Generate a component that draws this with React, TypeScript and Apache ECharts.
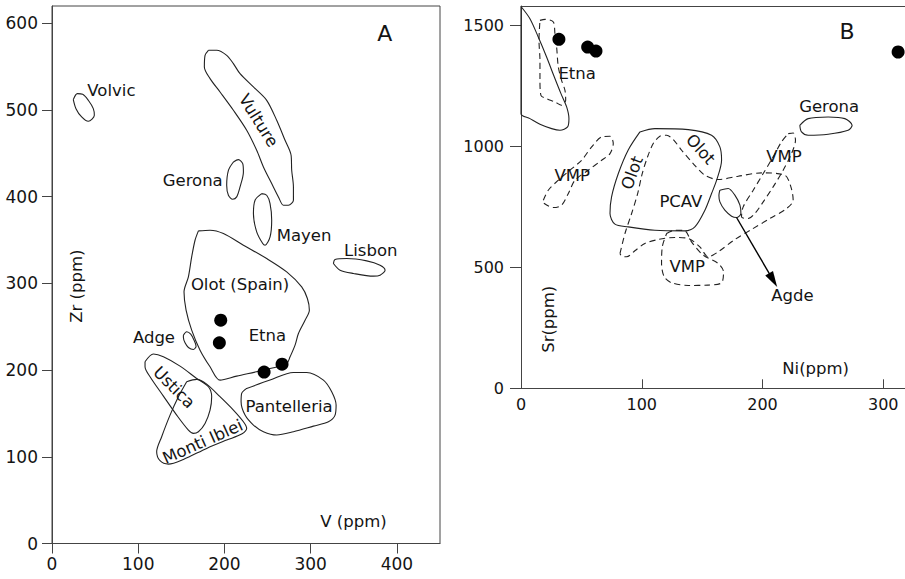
import React, { useEffect, useRef } from "react";
import * as echarts from "echarts";

// ---------- Panel A : V (ppm) vs Zr (ppm) ----------
const xTicksA = [0, 100, 200, 300, 400];
const yTicksA = [0, 100, 200, 300, 400, 500, 600];
const xRangeA = [0, 450];
const yRangeA = [0, 620];

const volvic = [[24.7,512],[29.4,518.9],[35.6,518.2],[42.1,511.3],[47.9,501.6],[49.1,493.9],[42.1,487],[34.4,492],[27.8,501.6]];
const vulture = [[181.4,568.9],[177.5,563.1],[176.7,549.7],[183.3,536.2],[194.9,520.8],[210.4,499.7],[225.8,476.7],[237.4,453.6],[245.2,434.4],[254.8,415.2],[262.6,399.8],[268.4,390.2],[274.2,390.2],[280,396],[280,411.3],[278,430.5],[277.3,447.8],[270.3,465.1],[260.6,488.2],[249,511.2],[233.6,526.6],[218.1,541.9],[210.4,553.5],[202.6,563.1],[191,568.9]];
const geronaA = [[210.4,440.1],[216.2,442.8],[221.2,438.2],[222,428.6],[218.1,411.3],[214.2,399.8],[209.6,397.1],[204.6,401.7],[202.6,413.2],[204.6,430.5]];
const mayen = [[243.2,403.6],[249,401.7],[252.9,392.1],[254.8,372.9],[252.9,353.7],[247.1,344.1],[244.4,346],[237.4,359.5],[233.6,380.6],[235.5,396]];
const lisbon = [[326.4,323],[328.3,327.6],[341.8,328.7],[365,326],[380.5,321],[386.3,315.3],[380.5,309.5],[372.8,308.4],[349.6,311.5],[334.1,315.3]];
const olotSpain = [[169.8,360.6],[183.3,361.4],[198.8,357.5],[222,344.1],[249,328.7],[272.2,313.3],[289.6,296],[296.2,282.6],[298.5,269.1],[293.5,257.6],[285.8,242.3],[281.9,228.8],[276.1,215.3],[272.2,207.7],[245.2,200],[214.2,193.1],[194.9,188.4],[183.3,203.8],[171.7,223],[162,246.1],[155.5,269.1],[153.1,290.3],[158.2,307.6],[162,330.6],[165.9,349.8]];
const adge = [[152.4,240.3],[156.2,244.2],[160.9,241.5],[164.7,234.6],[167.1,227.6],[164,223.8],[158.2,226.1],[154.3,231.5],[152.4,237.6]];
const ustica = [[107.9,209.6],[117.6,218.5],[129.2,215.4],[148.5,204.6],[167.8,190.4],[181.4,180.8],[185.2,169.3],[183.3,153.9],[177.5,138.5],[169.8,128.9],[164,127],[158.2,130.8],[144.6,148.1],[129.2,170],[113.7,192.3],[107.9,203.9]];
const montiIblei = [[156.2,186.6],[167.8,189.3],[179.4,183.9],[194.9,169.3],[210.4,153.9],[222,140.4],[225.8,132.8],[220,126.2],[202.6,119.3],[179.4,109.7],[152.4,97],[135,91.6],[125.3,95.5],[121.4,105.9],[127.2,123.2],[136.9,148.1],[146.6,169.3]];
const pantelleria = [[225.8,178.9],[252.9,188.5],[280,197.3],[295.4,197.3],[314.8,188.5],[324.4,175],[329.5,159.7],[328.3,148.1],[320.6,140.4],[303.2,135.4],[280,128.9],[260.6,125.1],[245.2,128.9],[233.6,136.6],[223.9,148.1],[219.3,163.5],[220,173.1]];
const etnaA = [[195.7,257.6],[194.1,231.5],[246,197.7],[266.8,206.9]];

const labelsA: [string, number, number][] = [
  ["Volvic", 41, 523],
  ["Vulture", 239.4, 487.9],
  ["Gerona", 198, 419],
  ["Mayen", 260.6, 355],
  ["Lisbon", 338.7, 338.3],
  ["Olot (Spain)", 218.1, 299.1],
  ["Etna", 249.8, 240.3],
  ["Adge", 142.7, 237.7],
  ["Ustica", 141.5, 180],
  ["Monti Iblei", 174.8, 117.4],
  ["Pantelleria", 275, 157.7],
  ["A", 386, 588.5],
  ["Zr (ppm)", 28.6, 296.8],
  ["V (ppm)", 349.6, 25.1],
];

// ---------- Panel B : Ni (ppm) vs Sr (ppm) ----------
const xTicksB = [0, 100, 200, 300];
const yTicksB = [0, 500, 1000, 1500];
const xRangeB = [0, 318];
const yRangeB = [0, 1580];

const etnaSolidB = [[0,1578],[7.4,1527.5],[14.3,1451.8],[21.2,1369.2],[27.6,1286.6],[33.1,1217.8],[37.8,1162.8],[39.7,1114.6],[38.6,1080.2],[32.3,1066.4],[25.4,1073.3],[15.7,1091.2],[7.4,1114.6],[0,1135]];
const etnaDashedB = [[15.7,1520.6],[19.9,1524.8],[26.8,1513.7],[28.1,1465.6],[29.5,1410.5],[30.9,1328],[33.6,1272.9],[36.4,1231.6],[37,1190.3],[33.6,1169.7],[28.1,1183.4],[21.2,1197.2],[16.5,1211],[15.7,1272.9],[15.7,1355.5],[14.9,1438]];
const vmpLeft = [[18.5,777.4],[22.6,818.7],[30.9,860],[40.5,901.3],[50.2,942.6],[58.5,997.6],[66.8,1038.9],[73.7,1041.7],[76.4,1011.4],[73.7,970.1],[66.8,942.6],[55.7,901.3],[44.7,860],[39.2,804.9],[33.6,756.8],[26.8,747.1],[19.3,763.7]];
const pcav = [[98.5,1059.6],[110.9,1073.3],[138.5,1069.2],[157.8,1045.8],[164.7,997.6],[166.1,942.6],[162,860],[157.8,804.9],[152.3,736.1],[144,667.3],[135.7,650.8],[110.9,653.5],[88.8,667.3],[77.8,678.3],[73.7,722.4],[75,791.2],[80.6,887.5],[88.8,984.9]];
const olotB = [[82,557.2],[86.1,639.8],[91.6,722.4],[96.6,805],[100.4,887.5],[104.8,956.4],[109.5,1011.4],[115,1041.7],[120.6,1045.8],[126.1,1027.9],[133,983.9],[142.6,928.8],[152.3,880.6],[163.3,862.8],[179.9,876.5],[199.2,890.3],[218.5,880.6],[223.5,832.5],[225.4,777.4],[219.9,743],[206.1,701.7],[190.9,656.3],[177.1,615],[163.3,564.1],[155,543.4],[148.1,584.7],[138.5,619.2],[127.5,623.3],[113.7,615],[102.6,598.5],[94.3,568.2],[87.4,543.4],[83.3,546.2]];
const vmpBottom = [[120.6,639.8],[127.5,653.5],[135.7,650.8],[141.2,605.4],[150.9,550.3],[163.3,515.9],[167.7,481.5],[166.1,436.1],[155,426.5],[138.5,425.1],[124.7,436.1],[118.6,460.9],[116.4,515.9],[117,584.7]];
const vmpRight = [[221.3,1052.7],[225.4,1055.4],[227.3,1025.2],[224,970.1],[217.1,901.3],[208.8,832.5],[200.6,770.5],[193.7,722.4],[188.1,701.7],[182.6,708.6],[184,749.9],[192.3,818.7],[200.6,887.5],[208.8,956.4],[215.7,1018.3]];
const agde = [[164.7,818.7],[171.6,825.6],[177.1,798.1],[181.3,756.8],[182.1,722.4],[178.5,705.9],[174.4,711.4],[168.8,736.1],[164.7,770.5],[163.9,798.1]];
const geronaB = [[230.9,1087.1],[237.8,1114.6],[254.4,1121.5],[268.2,1114.6],[274.2,1087.1],[270.9,1066.4],[254.4,1049.9],[237.8,1045.8],[232.3,1059.6]];
const etnaB = [[31.4,1442.2],[55.2,1410.5],[62.1,1394],[312.3,1389.9]];
const agdeArrow = [[178.5,705.9],[208.8,447.1]];

const labelsB: [string, number, number][] = [
  ["Etna", 31, 1300],
  ["VMP", 42.5, 880.6],
  ["Olot", 92.1, 890.3],
  ["Olot", 148.7, 988],
  ["PCAV", 132.4, 770.5],
  ["VMP", 217.7, 956.3],
  ["VMP", 137.7, 502.2],
  ["Gerona", 255.2, 1162.8],
  ["Agde", 224.8, 382.3],
  ["B", 270.1, 1476.5],
  ["Sr(ppm)", 22.6, 285.3],
  ["Ni(ppm)", 244, 82.6],
];

// ---------- styling ----------
const FONT = '"DejaVu Sans", sans-serif';
const INK = "#141414";
const LINE = "#222222";
const AXIS = "#444444";

type Hint = { anchor?: "left" | "right"; rotate?: number; size?: number };
const hintsA: Hint[] = [
  { anchor: "left" }, { rotate: -58 }, { anchor: "right" }, { anchor: "left" }, { anchor: "left" },
  {}, {}, { anchor: "right" }, { rotate: -45 }, { rotate: 24 }, {}, { size: 22 }, { rotate: 90 }, {},
];
const hintsB: Hint[] = [
  { anchor: "left" }, {}, { rotate: 70 }, { rotate: -48 }, {}, {}, {}, {}, {}, { size: 22 }, { rotate: 90 }, {},
];

function closed(pts: number[][]) {
  return [...pts, pts[0]];
}

function outline(pts: number[][], idx: number, dashed = false) {
  return {
    type: "line",
    xAxisIndex: idx,
    yAxisIndex: idx,
    data: closed(pts),
    smooth: 0.3,
    symbol: "none",
    showSymbol: false,
    silent: true,
    z: 2,
    lineStyle: { color: LINE, width: 1.1, type: dashed ? [6, 4] : "solid" },
  };
}

function labelSeries(items: [string, number, number][], hints: Hint[], idx: number) {
  return {
    type: "scatter",
    xAxisIndex: idx,
    yAxisIndex: idx,
    symbolSize: 0,
    silent: true,
    z: 6,
    itemStyle: { color: "rgba(0,0,0,0)" },
    data: items.map(([name, x, y], i) => {
      const h = hints[i] || {};
      return {
        name,
        value: [x, y],
        label: {
          show: true,
          formatter: "{b}",
          position: h.anchor === "left" ? "right" : h.anchor === "right" ? "left" : "inside",
          distance: 0,
          rotate: h.rotate || 0,
          fontSize: h.size || 16.5,
          color: INK,
          opacity: 1,
          fontFamily: FONT,
        },
      };
    }),
  };
}

function valueAxis(range: number[], ticks: number[], grid: number, o: any) {
  return {
    type: "value",
    gridIndex: grid,
    min: range[0],
    max: range[1],
    splitLine: { show: false },
    axisLine: { show: true, onZero: false, lineStyle: { color: AXIS, width: 1 } },
    axisTick: { show: true, customValues: ticks, length: o.tickLen, inside: !!o.inside, lineStyle: { color: AXIS, width: 1 } },
    axisLabel: {
      show: true, customValues: ticks, color: INK, fontSize: o.font, fontFamily: FONT, margin: o.margin,
      formatter: (v: number) => String(v),
    },
  };
}

export default function App() {
  const ref = useRef<HTMLDivElement>(null);
  useEffect(() => {
    document.body.style.margin = "0";
    const chart = echarts.init(ref.current!, null, { renderer: "svg" });
    chart.setOption({
      animation: false,
      backgroundColor: "#ffffff",
      grid: [
        { left: 52, top: 6, width: 388, height: 537.5, show: true, borderColor: AXIS, borderWidth: 1, backgroundColor: "transparent", containLabel: false, outerBoundsMode: "none" },
        { left: 521, top: 6, width: 384, height: 382.3, containLabel: false, outerBoundsMode: "none" },
      ],
      xAxis: [
        valueAxis(xRangeA, xTicksA, 0, { tickLen: 10, font: 17, margin: 12 }),
        valueAxis(xRangeB, xTicksB, 1, { tickLen: 9, inside: true, font: 16, margin: 8 }),
        {
          type: "value", gridIndex: 1, position: "top", min: xRangeB[0], max: xRangeB[1],
          axisLine: { show: true, onZero: false, lineStyle: { color: AXIS, width: 1 } },
          axisTick: { show: false }, axisLabel: { show: false }, splitLine: { show: false },
        },
      ],
      yAxis: [
        valueAxis(yRangeA, yTicksA, 0, { tickLen: 10, font: 17, margin: 14 }),
        valueAxis(yRangeB, yTicksB, 1, { tickLen: 11, font: 16, margin: 17 }),
      ],
      series: [
        outline(volvic, 0),
        outline(vulture, 0),
        outline(geronaA, 0),
        outline(mayen, 0),
        outline(lisbon, 0),
        outline(olotSpain, 0),
        outline(adge, 0),
        outline(ustica, 0),
        outline(montiIblei, 0),
        outline(pantelleria, 0),
        { type: "scatter", xAxisIndex: 0, yAxisIndex: 0, data: etnaA, symbolSize: 13, itemStyle: { color: "#000", opacity: 1 }, z: 5, silent: true },
        labelSeries(labelsA, hintsA, 0),

        outline(etnaSolidB, 1),
        outline(etnaDashedB, 1, true),
        outline(vmpLeft, 1, true),
        outline(pcav, 1),
        outline(olotB, 1, true),
        outline(vmpBottom, 1, true),
        outline(vmpRight, 1, true),
        outline(agde, 1),
        outline(geronaB, 1),
        {
          type: "scatter", xAxisIndex: 1, yAxisIndex: 1, data: etnaB, symbolSize: 13, itemStyle: { color: "#000", opacity: 1 }, z: 5, silent: true,
          markLine: {
            silent: true, symbol: ["none", "triangle"], symbolSize: [9, 16], label: { show: false },
            lineStyle: { color: "#000", width: 1.4, type: "solid", opacity: 1 },
            data: [[{ coord: agdeArrow[0] }, { coord: agdeArrow[1] }]],
          },
        },
        labelSeries(labelsB, hintsB, 1),
      ],
    });
    return () => chart.dispose();
  }, []);
  return <div ref={ref} style={{ width: 905, height: 579 }} />;
}
